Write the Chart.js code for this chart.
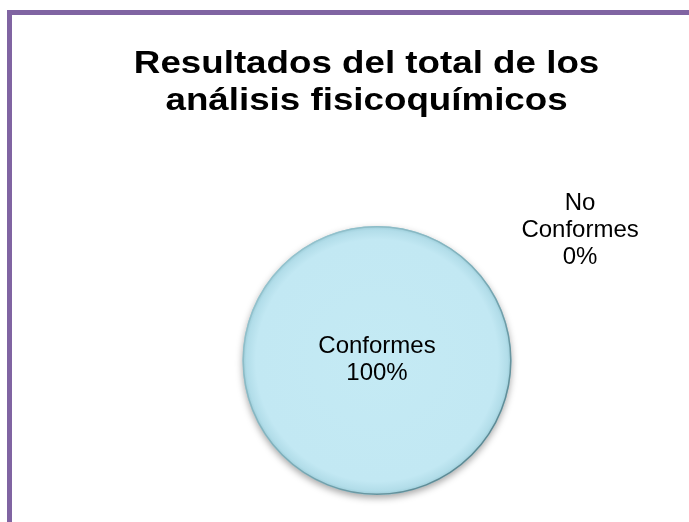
<!DOCTYPE html>
<html lang="es">
<head>
<meta charset="UTF-8">
<meta name="viewport" content="width=device-width, initial-scale=1.0">
<title>Resultados del total de los análisis fisicoquímicos</title>
<script src="https://cdn.jsdelivr.net/npm/chart.js"></script>
<style>
    html, body { margin: 0; padding: 0; background: #fff; overflow: hidden; }
    body { width: 689px; height: 522px; position: relative; }
    .frame {
        position: absolute; left: 7px; top: 10px;
        width: 740px; height: 580px;
        border: 5px solid #8064A2; box-sizing: border-box;
    }
    .chart-box { position: absolute; left: 0; top: 0; width: 689px; height: 522px; }
</style>
</head>
<body>
<div class="frame"></div>
<div class="chart-box"><canvas id="resultsChart"></canvas></div>
<script>
// chart data
const titleLines = ['Resultados del total de los', 'análisis fisicoquímicos'];
const categories = ['Conformes', 'No Conformes'];
const percentages = [100, 0];

const FONT = '"Liberation Sans", Arial, Helvetica, sans-serif';
const fillColor = '#C4EAF4';

// radial fill, slightly darker near the rim
function sliceFill(context) {
    const chart = context.chart;
    const area = chart.chartArea;
    if (!area) return fillColor;
    const cx = (area.left + area.right) / 2;
    const cy = (area.top + area.bottom) / 2;
    const r = Math.min(area.right - area.left, area.bottom - area.top) / 2;
    const g = chart.ctx.createRadialGradient(cx, cy, 0, cx, cy, r);
    g.addColorStop(0, fillColor);
    g.addColorStop(0.9, '#C2E8F3');
    g.addColorStop(0.97, '#B2DDE9');
    g.addColorStop(1, '#9ACBD7');
    return g;
}

// soft drop shadow under the pie, then the outer rim only (no radial edges),
// lit from the top left
const pieShadow = {
    id: 'pieShadow',
    beforeDatasetsDraw(chart) {
        const c = chart.ctx;
        c.save();
        c.shadowColor = 'rgba(0, 0, 0, 0.35)';
        c.shadowBlur = 7;
        c.shadowOffsetY = 3;
    },
    afterDatasetsDraw(chart) {
        const c = chart.ctx;
        c.restore();
        const arc = chart.getDatasetMeta(0).data[0];
        const r = arc.outerRadius;
        const g = c.createLinearGradient(arc.x - r, arc.y - r, arc.x + r, arc.y + r);
        g.addColorStop(0, '#9CCAD5');
        g.addColorStop(0.5, '#7FAFBA');
        g.addColorStop(1, '#4E7882');
        c.save();
        c.strokeStyle = g;
        c.lineWidth = 1.5;
        c.beginPath();
        c.arc(arc.x, arc.y, r - 0.75, 0, Math.PI * 2);
        c.stroke();
        c.restore();
    }
};

function drawLines(c, lines, x, cy, size, lineHeight) {
    const cap = size * 0.716;
    let y = cy - (lines.length - 1) * lineHeight / 2 + cap / 2;
    lines.forEach(line => {
        c.fillText(line, x, y);
        y += lineHeight;
    });
}

// title and data labels
const pieText = {
    id: 'pieText',
    afterDraw(chart) {
        const c = chart.ctx;
        c.save();
        c.fillStyle = '#000';
        c.textAlign = 'center';
        c.textBaseline = 'alphabetic';

        // title is set wide
        c.font = 'bold 31px ' + FONT;
        titleLines.forEach((line, i) => {
            c.save();
            c.translate(chart.width * 0.532, 73 + i * 37);
            c.scale(1.185, 1);
            c.fillText(line, 0, 0);
            c.restore();
        });

        c.font = '24px ' + FONT;
        const meta = chart.getDatasetMeta(0);
        meta.data.forEach((arc, i) => {
            const pct = percentages[i] + '%';
            if (percentages[i] >= 50) {
                drawLines(c, [categories[i], pct], arc.x, arc.y - 2.5, 24, 27.5);
            } else {
                const r = arc.outerRadius;
                const lines = categories[i].split(' ').concat(pct);
                drawLines(c, lines, arc.x + r * 1.51, arc.y - r * 0.985, 24, 27);
            }
        });
        c.restore();
    }
};

const ctx = document.getElementById('resultsChart').getContext('2d');
new Chart(ctx, {
    type: 'pie',
    data: {
        labels: categories,
        datasets: [{
            data: percentages,
            backgroundColor: sliceFill,
            borderWidth: 0
        }]
    },
    options: {
        responsive: true,
        maintainAspectRatio: false,
        animation: false,
        rotation: 0,
        layout: { padding: { left: 242, right: 177, top: 226, bottom: 27 } },
        plugins: {
            legend: { display: false },
            tooltip: { enabled: false },
            title: { display: false }
        }
    },
    plugins: [pieShadow, pieText]
});
</script>
</body>
</html>
